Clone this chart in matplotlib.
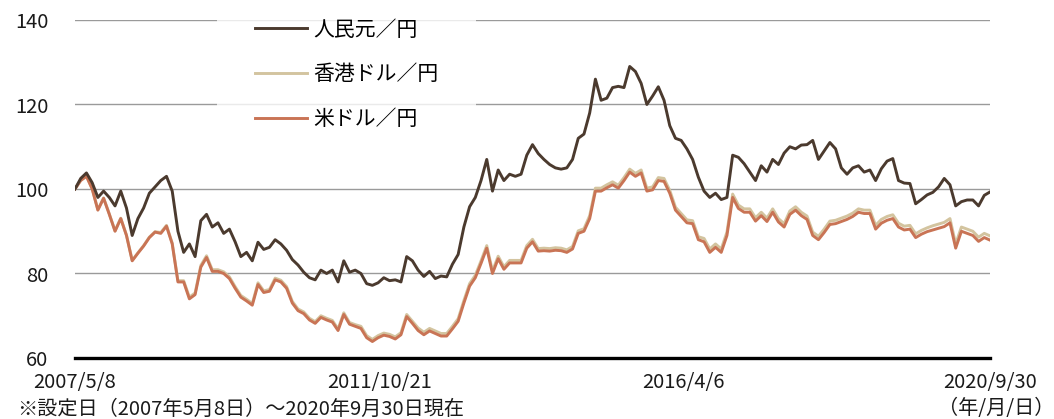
import matplotlib
matplotlib.use("Agg")
import matplotlib.pyplot as plt
import pandas as pd

plt.rcParams['font.family'] = ['Noto Sans CJK JP', 'DejaVu Sans']

start_date = "2007-05-08"
end_date = "2020-09-30"

cny = [100, 102.5, 103.8, 101.5, 98, 99.5, 98, 96, 99.5, 95.5,
       89, 93, 95.5, 99, 100.5, 102, 103, 99.5, 90, 85,
       87, 84, 92.5, 94, 91, 92, 89.5, 90.5, 87.5, 84,
       85, 83, 87.4, 85.7, 86.2, 88, 87, 85.5, 83.3, 82,
       80.3, 79, 78.5, 80.8, 80, 80.8, 78, 83, 80.3, 80.8,
       80, 77.6, 77.2, 77.8, 79, 78.3, 78.5, 78, 84, 83,
       80.8, 79.3, 80.5, 78.8, 79.4, 79.2, 82.2, 84.5, 91, 95.8,
       98, 102, 107, 99.5, 104.5, 102, 103.5, 103, 103.5, 108,
       110.5, 108.4, 107, 105.8, 105, 104.7, 105, 107, 112, 113,
       118, 126, 121, 121.5, 124, 124.3, 124, 129, 127.8, 125,
       120, 122, 124.2, 121, 115, 112, 111.5, 109.5, 107, 102.8,
       99.5, 98, 99, 97.5, 98, 108, 107.5, 106, 104, 102,
       105.5, 104, 107, 105.8, 108.5, 110, 109.5, 110.4, 110.5, 111.5,
       107, 109, 111, 109.5, 105, 103.5, 105, 105.5, 104, 104.5,
       102, 104.8, 106.6, 107.2, 102, 101.4, 101.3, 96.5, 97.5, 98.6,
       99.2, 100.5, 102.5, 101, 96, 97, 97.4, 97.4, 96, 98.5,
       99.3]

hkd = [100, 102.1, 103.1, 100.1, 95.1, 97.9, 94.1, 90.1, 93.1, 89.1,
       83.1, 84.9, 86.6, 88.6, 89.9, 89.7, 91.4, 87.2, 78.3, 78.3,
       74.4, 75.4, 81.9, 84.2, 80.9, 80.9, 80.4, 79.2, 76.9, 74.8,
       73.9, 72.9, 77.8, 75.9, 76.2, 78.9, 78.4, 76.9, 73.4, 71.6,
       70.9, 69.4, 68.6, 70.0, 69.4, 68.9, 66.9, 70.7, 68.4, 67.9,
       67.5, 65.3, 64.4, 65.3, 65.9, 65.6, 65.0, 66.0, 70.3, 68.7,
       67.1, 66.1, 67.0, 66.4, 65.8, 65.8, 67.5, 69.3, 73.6, 77.6,
       79.6, 83.0, 86.6, 80.6, 84.1, 81.6, 83.1, 83.1, 83.1, 86.6,
       88.1, 85.9, 86.0, 85.9, 86.1, 86.0, 85.6, 86.4, 90.1, 90.6,
       93.7, 100.2, 100.2, 101.0, 101.7, 100.9, 102.7, 104.7, 103.7, 104.5,
       100.2, 100.5, 102.7, 102.5, 99.7, 95.7, 94.2, 92.7, 92.5, 88.7,
       88.3, 85.8, 87.0, 85.8, 89.8, 98.8, 96.2, 95.3, 95.3, 93.2,
       94.5, 93.1, 95.3, 93.0, 91.8, 94.8, 95.8, 94.5, 93.6, 89.8,
       88.8, 90.5, 92.4, 92.6, 93.1, 93.6, 94.3, 95.3, 95.0, 95.0,
       91.4, 92.8, 93.5, 93.9, 91.9, 91.2, 91.4, 89.4, 90.2, 90.8,
       91.3, 91.7, 92.1, 93.0, 87.0, 91.0, 90.5, 90.0, 88.6, 89.5,
       88.9]

usd = [100, 102, 103, 100, 95, 97.8, 94, 90, 93, 89,
       83, 84.8, 86.5, 88.5, 89.8, 89.5, 91.2, 87, 78, 78,
       74, 75, 81.5, 83.8, 80.5, 80.5, 80, 78.8, 76.5, 74.4,
       73.5, 72.5, 77.4, 75.5, 75.8, 78.5, 78, 76.5, 73, 71.2,
       70.5, 69, 68.2, 69.6, 69, 68.5, 66.5, 70.3, 68, 67.5,
       67, 64.8, 63.9, 64.8, 65.4, 65.1, 64.5, 65.5, 69.8, 68.2,
       66.5, 65.5, 66.4, 65.8, 65.2, 65.2, 66.9, 68.7, 73, 77,
       79, 82.4, 86, 80, 83.5, 81, 82.5, 82.5, 82.5, 86,
       87.5, 85.3, 85.4, 85.3, 85.5, 85.4, 85, 85.8, 89.5, 90,
       93, 99.5, 99.5, 100.3, 101, 100.2, 102, 104, 103, 103.8,
       99.5, 99.8, 102, 101.8, 99, 95, 93.5, 92, 91.8, 88,
       87.5, 85, 86.2, 85, 89, 98, 95.4, 94.5, 94.5, 92.4,
       93.7, 92.3, 94.5, 92.2, 91, 94, 95, 93.7, 92.8, 89,
       88, 89.7, 91.6, 91.8, 92.3, 92.8, 93.5, 94.5, 94.2, 94.2,
       90.5, 91.9, 92.6, 93, 91, 90.3, 90.5, 88.5, 89.3, 89.9,
       90.3, 90.7, 91.1, 92, 86, 90, 89.5, 89, 87.6, 88.5,
       87.9]

labels = ["人民元／円", "香港ドル／円", "米ドル／円"]
tick_dates = ["2007-05-08", "2011-10-21", "2016-04-06", "2020-09-30"]
tick_labels = ["2007/5/8", "2011/10/21", "2016/4/6", "2020/9/30"]
y_ticks = [60, 80, 100, 120, 140]

dates = pd.date_range(start_date, end_date, periods=len(cny))

W, H = 1054, 419
fig = plt.figure(figsize=(W / 100, H / 100), dpi=100)
ax = fig.add_axes([75 / W, 1 - 358 / H, (990 - 75) / W, (358 - 20) / H])

c_cny = "#4b3a2e"
c_hkd = "#d3c49f"
c_usd = "#c97455"

ax.plot(dates, hkd, color=c_hkd, lw=2.1, label=labels[1], zorder=3)
ax.plot(dates, usd, color=c_usd, lw=2.1, label=labels[2], zorder=4)
ax.plot(dates, cny, color=c_cny, lw=2.1, label=labels[0], zorder=5)

ax.set_xlim(pd.Timestamp(start_date), pd.Timestamp(end_date))
ax.set_ylim(60, 140)
ax.set_yticks(y_ticks)
ax.set_xticks(pd.to_datetime(tick_dates))
ax.set_xticklabels(tick_labels)
for s in ["left", "right", "top"]:
    ax.spines[s].set_visible(False)
ax.spines["bottom"].set_linewidth(2.4)
ax.spines["bottom"].set_color("black")
ax.grid(axis="y", color="#9a9a9a", lw=1.0, zorder=1)
ax.set_axisbelow(True)
ax.tick_params(axis="both", length=0, labelsize=14.5, colors="#1a1a1a")
ax.tick_params(axis="y", pad=19)
ax.tick_params(axis="x", pad=10)

h, l = ax.get_legend_handles_labels()
order = [2, 0, 1]
fs = 15
leg = ax.legend([h[i] for i in order], [l[i] for i in order],
                loc="upper left", bbox_to_anchor=((217 - 75) / 915, 1 + 39 / 338),
                borderaxespad=0, frameon=True, fontsize=fs, handlelength=2.5,
                labelspacing=1.09, handletextpad=0.3, borderpad=1.8,
                fancybox=False)
leg.get_frame().set_facecolor("white")
leg.get_frame().set_edgecolor("white")
leg.get_frame().set_linewidth(0)
leg.set_zorder(6)

fig.text(1.0, 1 - 408 / H, "（年/月/日）", ha="right", va="center",
         fontsize=14.5, color="#1a1a1a")
fig.text(17 / W, 1 - 409 / H, "※設定日（2007年5月8日）～2020年9月30日現在",
         ha="left", va="center", fontsize=14.5, color="#1a1a1a")

fig.savefig("out.png", dpi=100)
